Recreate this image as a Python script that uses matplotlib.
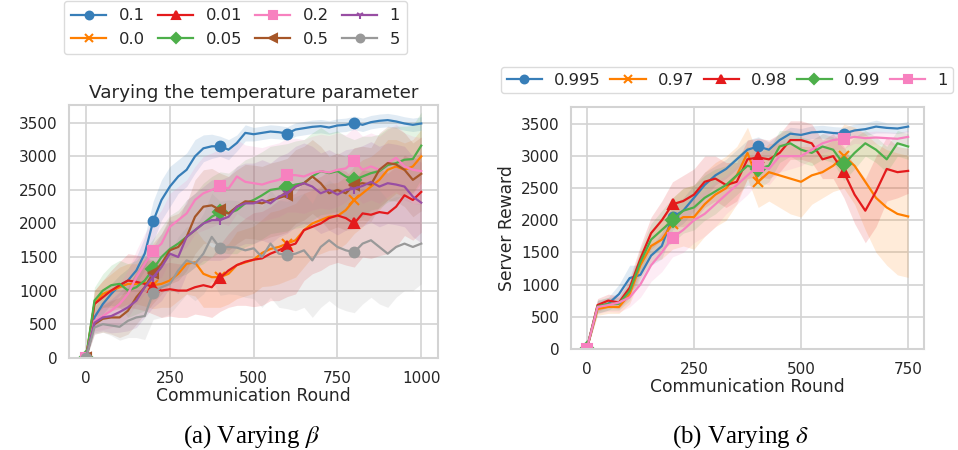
import numpy as np
import matplotlib
matplotlib.use("Agg")
import matplotlib.pyplot as plt

# ---- data: panel (a), varying beta, one value every 25 rounds ----
rounds_a = list(range(0, 1001, 25))

beta_01 = [0, 600, 800, 950, 1080, 1150, 1300, 1550, 2030, 2350, 2550, 2700, 2800, 3000, 3120, 3150, 3150,
           3100, 3200, 3350, 3330, 3350, 3370, 3360, 3340, 3400, 3420, 3440, 3450, 3430, 3460, 3470, 3500,
           3470, 3510, 3530, 3540, 3520, 3490, 3470, 3490]
beta_00 = [0, 800, 950, 1000, 1050, 1100, 1100, 1120, 1080, 1100, 1150, 1250, 1400, 1420, 1250, 1200, 1200,
           1250, 1380, 1420, 1460, 1560, 1620, 1650, 1700, 1750, 1900, 2000, 2050, 2100, 2110, 2200, 2350,
           2450, 2550, 2650, 2800, 2850, 2800, 2850, 3000]
beta_001 = [0, 800, 900, 1000, 1080, 1150, 1130, 1100, 1050, 1000, 1020, 1000, 1000, 1050, 1080, 1050, 1190,
            1300, 1380, 1430, 1460, 1480, 1550, 1600, 1660, 1700, 1900, 1950, 2000, 2080, 2120, 2080, 2000,
            2150, 2130, 2170, 2150, 2250, 2420, 2350, 2470]
beta_005 = [0, 850, 1000, 1080, 1100, 1000, 1050, 1150, 1320, 1500, 1620, 1700, 1800, 1900, 2000, 2100, 2170,
            2150, 2200, 2300, 2350, 2420, 2500, 2520, 2540, 2580, 2600, 2700, 2780, 2750, 2780, 2700, 2650,
            2700, 2750, 2780, 2870, 2900, 2950, 2960, 3160]
beta_02 = [0, 550, 620, 700, 800, 950, 1200, 1400, 1590, 1700, 1950, 2050, 2150, 2350, 2450, 2500, 2560,
           2520, 2700, 2620, 2600, 2580, 2620, 2650, 2720, 2720, 2700, 2750, 2780, 2760, 2800, 2820, 2930,
           2800, 2850, 2800, 2900, 2980, 2850, 2800, 2780]
beta_05 = [0, 500, 580, 600, 600, 700, 900, 1050, 1260, 1400, 1600, 1650, 1800, 2100, 2250, 2270, 2200,
           2150, 2250, 2330, 2320, 2300, 2350, 2380, 2420, 2550, 2600, 2700, 2600, 2450, 2500, 2450, 2580,
           2600, 2580, 2800, 2900, 2880, 2800, 2650, 2740]
beta_1 = [0, 520, 600, 620, 680, 750, 850, 1050, 1200, 1350, 1550, 1500, 1800, 1900, 2000, 2050, 2050,
          2100, 2250, 2300, 2300, 2350, 2300, 2400, 2450, 2550, 2600, 2550, 2450, 2500, 2430, 2500, 2520,
          2560, 2620, 2550, 2600, 2580, 2550, 2400, 2310]
beta_5 = [0, 450, 500, 480, 460, 550, 600, 620, 970, 1050, 1100, 1300, 1450, 1400, 1550, 1800, 1630,
          1650, 1640, 1600, 1630, 1500, 1700, 1550, 1530, 1550, 1600, 1450, 1650, 1750, 1650, 1600, 1570,
          1700, 1750, 1650, 1550, 1650, 1700, 1650, 1700]

sd_01 = [20, 150, 150, 150, 150, 180, 200, 250, 300, 300, 300, 250, 250, 250, 200, 180, 150, 150, 120, 120, 100,
         100, 100, 100, 100, 100, 100, 100, 100, 100, 100, 100, 100, 100, 100, 100, 100, 100, 100, 100, 100]
sd_00 = [20, 200, 200, 250, 300, 300, 300, 350, 350, 350, 400, 400, 450, 500, 500, 450, 450, 450, 500, 500, 500,
         500, 550, 550, 550, 550, 550, 500, 500, 500, 500, 500, 500, 500, 450, 450, 450, 400, 400, 400, 400]
sd_001 = [20, 200, 250, 300, 350, 400, 400, 400, 400, 400, 400, 400, 400, 400, 450, 450, 500, 550, 600, 650, 700,
          700, 700, 750, 750, 750, 750, 700, 700, 700, 700, 700, 650, 650, 650, 650, 600, 600, 600, 600, 600]
sd_005 = [20, 200, 250, 300, 350, 400, 400, 450, 450, 450, 500, 500, 550, 550, 600, 600, 600, 600, 650, 650, 650,
          650, 650, 650, 650, 650, 650, 650, 650, 600, 600, 600, 600, 600, 550, 550, 550, 550, 500, 500, 500]
sd_02 = [20, 150, 200, 250, 300, 350, 400, 450, 450, 500, 500, 500, 500, 500, 550, 550, 550, 550, 550, 550, 550,
         550, 550, 550, 550, 550, 550, 550, 550, 550, 550, 500, 500, 500, 500, 500, 500, 500, 500, 500, 500]
sd_05 = [20, 150, 200, 250, 300, 350, 400, 400, 450, 450, 500, 500, 500, 550, 550, 550, 550, 550, 550, 550, 550,
         550, 550, 550, 550, 550, 550, 550, 550, 550, 550, 550, 550, 550, 550, 550, 550, 550, 550, 550, 550]
sd_1 = [20, 150, 200, 250, 300, 350, 400, 450, 450, 500, 500, 550, 550, 550, 550, 600, 600, 600, 600, 600, 600,
        600, 600, 600, 600, 600, 600, 600, 600, 600, 600, 600, 600, 600, 600, 600, 600, 600, 600, 600, 600]
sd_5 = [20, 100, 120, 150, 200, 250, 300, 350, 400, 450, 450, 500, 500, 550, 600, 650, 700, 700, 700, 700, 750,
        750, 800, 800, 800, 850, 850, 850, 900, 900, 900, 900, 900, 900, 850, 850, 800, 750, 700, 650, 600]

# ---- data: panel (b), varying delta ----
rounds_b = list(range(0, 751, 25))

delta_0995 = [0, 650, 700, 850, 1100, 1150, 1450, 1600, 2050, 2150, 2350, 2550, 2700, 2800, 2950, 3100,
              3150, 3100, 3250, 3350, 3330, 3370, 3380, 3360, 3350, 3400, 3420, 3460, 3440, 3430, 3460]
delta_097 = [0, 620, 650, 650, 850, 1300, 1600, 1700, 1950, 2050, 2050, 2250, 2400, 2500, 2700, 3050,
             2600, 2750, 2700, 2650, 2600, 2700, 2750, 2850, 3000, 2850, 2600, 2350, 2200, 2100, 2060]
delta_098 = [0, 680, 750, 720, 950, 1400, 1800, 2000, 2250, 2300, 2400, 2600, 2650, 2550, 2600, 2950,
             2980, 2950, 3050, 3250, 3250, 3200, 2950, 3000, 2750, 2400, 2150, 2450, 2800, 2750, 2770]
delta_099 = [0, 660, 700, 700, 900, 1350, 1700, 1850, 2000, 2150, 2200, 2350, 2450, 2550, 2700, 2850,
             2800, 2850, 3150, 3200, 3100, 3050, 3150, 3100, 2870, 3050, 3200, 3100, 2950, 3200, 3150]
delta_1 = [0, 650, 680, 720, 800, 1000, 1300, 1500, 1730, 1850, 2000, 2100, 2250, 2400, 2550, 2700,
           2850, 2800, 3000, 3000, 3000, 3100, 3200, 3250, 3270, 3300, 3280, 3290, 3280, 3270, 3300]

sd_0995 = [20, 100, 100, 150, 200, 150, 150, 200, 200, 200, 200, 200, 150, 150, 150, 150,
           150, 120, 100, 100, 100, 100, 100, 100, 100, 100, 100, 100, 80, 80, 80]
sd_097 = [20, 100, 100, 100, 150, 200, 250, 300, 400, 450, 500, 500, 500, 500, 450, 400,
          400, 450, 500, 550, 550, 450, 400, 400, 500, 600, 750, 850, 900, 950, 950]
sd_098 = [20, 100, 100, 100, 150, 200, 250, 300, 350, 400, 400, 400, 350, 350, 300, 300,
          300, 300, 300, 300, 300, 300, 300, 350, 400, 450, 500, 550, 500, 400, 350]
sd_099 = [20, 100, 100, 100, 150, 200, 250, 300, 350, 350, 350, 350, 350, 300, 300, 300,
          300, 250, 250, 200, 200, 200, 200, 200, 250, 250, 200, 200, 200, 200, 200]
sd_d1 = [20, 100, 100, 150, 150, 200, 250, 300, 300, 350, 350, 350, 350, 300, 300, 300,
         250, 250, 250, 200, 150, 150, 150, 150, 150, 100, 100, 100, 100, 100, 100]

# ---- styling ----
plt.rcParams["font.family"] = ["DejaVu Sans"]
plt.rcParams["mathtext.fontset"] = "stix"
text_col = "#262626"
grid_col = "#d3d3d3"

fig = plt.figure(figsize=(9.58, 4.5), dpi=100)
ax1 = fig.add_axes([0.0720, 0.2044, 0.3852, 0.5622])
ax2 = fig.add_axes([0.5960, 0.2244, 0.3685, 0.5378])

series_a = [("0.1", beta_01, sd_01, "#377eb8", "o"),
            ("0.0", beta_00, sd_00, "#ff7f00", "x"),
            ("0.01", beta_001, sd_001, "#e41a1c", "^"),
            ("0.05", beta_005, sd_005, "#4daf4a", "D"),
            ("0.2", beta_02, sd_02, "#f781bf", "s"),
            ("0.5", beta_05, sd_05, "#a65628", "<"),
            ("1", beta_1, sd_1, "#984ea3", "1"),
            ("5", beta_5, sd_5, "#999999", "o")]
series_b = [("0.995", delta_0995, sd_0995, "#377eb8", "o"),
            ("0.97", delta_097, sd_097, "#ff7f00", "x"),
            ("0.98", delta_098, sd_098, "#e41a1c", "^"),
            ("0.99", delta_099, sd_099, "#4daf4a", "D"),
            ("1", delta_1, sd_d1, "#f781bf", "s")]


def draw(ax, x, series, last_mark):
    x = np.array(x)
    for lab, m, s, c, mk in series:
        m = np.array(m)
        s = np.array(s)
        ax.fill_between(x, m - s, m + s, color=c, alpha=0.15, lw=0)
    # markers every 200 rounds (every 8th point)
    for lab, m, s, c, mk in series:
        ax.plot(x, m, color=c, lw=1.6, marker=mk, markevery=slice(0, last_mark, 8),
                ms=7, mew=1.5, label=lab)
    ax.set_yticks(range(0, 3501, 500))
    ax.set_ylim(-5, 3765)
    ax.grid(True, color=grid_col, lw=1.2)
    ax.set_axisbelow(True)
    for sp in ax.spines.values():
        sp.set_color(grid_col)
        sp.set_linewidth(1.5)
    ax.tick_params(length=0, labelsize=11, colors=text_col, pad=8)
    ax.tick_params(axis="x", pad=9)
    ax.set_xlabel("Communication Round", fontsize=12.3, color=text_col, labelpad=1)


draw(ax1, rounds_a, series_a, 40)
ax1.set_xlim(-51, 1050)
ax1.set_xticks([0, 250, 500, 750, 1000])
ax1.set_title("Varying the temperature parameter", fontsize=13.2, color=text_col, pad=5)

draw(ax2, rounds_b, series_b, 31)
ax2.set_xlim(-37, 787)
ax2.set_xticks([0, 250, 500, 750])
ax2.set_ylabel("Server Reward", fontsize=12.3, color=text_col, labelpad=4)

leg_kw = dict(bbox_transform=fig.transFigure, handlelength=2.15, borderaxespad=0,
              markerscale=0.8, frameon=True, edgecolor=grid_col, fancybox=True)
leg1 = ax1.legend(ncol=4, loc="upper center", bbox_to_anchor=(235.5 / 958, 1 - 1 / 450),
                  fontsize=11.8, labelspacing=0.5, borderpad=0.45, columnspacing=0.8,
                  handletextpad=0.75, **leg_kw)
leg2 = ax2.legend(ncol=5, loc="upper left", bbox_to_anchor=(501 / 958, 1 - 67 / 450),
                  fontsize=11.8, borderpad=0.35, columnspacing=0.6, handletextpad=0.72, **leg_kw)
for t in leg1.get_texts() + leg2.get_texts():
    t.set_color(text_col)

# left y label is mostly cut off in the reference, only its edge shows
clip_ax = fig.add_axes([9 / 958, 0.3, 3 / 958, 0.4])
clip_ax.axis("off")
clip_ax.text(1.0, 0.5, "Server Reward", rotation=90, ha="right", va="center",
             fontsize=12, color=text_col, transform=clip_ax.transAxes, clip_on=True)

cap_font = ["Liberation Serif", "DejaVu Serif"]
fig.text(252 / 958, 1 - 437 / 450, r"(a) Varying $\beta$", ha="center", va="center",
         fontsize=18, family=cap_font)
fig.text(741 / 958, 1 - 437 / 450, r"(b) Varying $\delta$", ha="center", va="center",
         fontsize=18, family=cap_font)

fig.savefig("out.png", dpi=100)
